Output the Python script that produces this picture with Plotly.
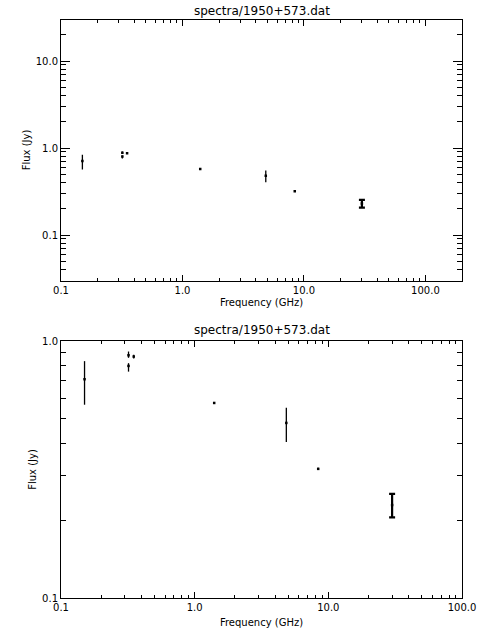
import numpy as np
import plotly.graph_objects as go

# ---- data ----
freq_ghz = [0.15, 0.32, 0.32, 0.35, 1.4, 4.85, 8.4, 30.0]
flux_jy = [0.71, 0.88, 0.80, 0.87, 0.574, 0.48, 0.318, 0.23]
err_plus = [0.125, 0.03, 0.02, 0.015, 0.004, 0.07, 0.003, 0.024]
err_minus = [0.145, 0.02, 0.04, 0.015, 0.004, 0.075, 0.003, 0.024]
capped = [False, False, False, False, False, False, False, True]

title_text = "spectra/1950+573.dat"
x_title = "Frequency (GHz)"
y_title = "Flux (Jy)"
x_tickvals = [0.1, 1.0, 10.0, 100.0]
x_ticktext = ["0.1", "1.0", "10.0", "100.0"]
y_tickvals_top = [0.1, 1.0, 10.0]
y_ticktext_top = ["0.1", "1.0", "10.0"]
y_tickvals_bot = [0.1, 1.0]
y_ticktext_bot = ["0.1", "1.0"]

minor_vals = [m * 10.0 ** e for e in range(-2, 3) for m in range(2, 10)]

FONT = dict(family="DejaVu Sans", size=10, color="black")

fig = go.Figure()

def add_points(xa, ya):
    idx_nc = [i for i, c in enumerate(capped) if not c]
    idx_c = [i for i, c in enumerate(capped) if c]
    for idx, w, th in ((idx_nc, 0, 1.3), (idx_c, 3, 2.2)):
        fig.add_trace(go.Scatter(
            x=[freq_ghz[i] for i in idx], y=[flux_jy[i] for i in idx],
            mode="markers", xaxis=xa, yaxis=ya,
            marker=dict(symbol="square", size=2.5, color="black", line=dict(width=0)),
            error_y=dict(type="data", symmetric=False,
                         array=[err_plus[i] for i in idx],
                         arrayminus=[err_minus[i] for i in idx],
                         color="black", thickness=th, width=w),
            showlegend=False, hoverinfo="skip"))

add_points("x", "y")
add_points("x2", "y2")

def xaxis_common(rng, dom, anchor, ticklen, mticklen, standoff):
    return dict(type="log", range=rng, domain=dom, anchor=anchor, automargin=False,
                showline=True, linecolor="black", linewidth=1, mirror="allticks",
                ticks="inside", ticklen=ticklen, tickwidth=1, tickcolor="black",
                tickmode="array", showgrid=False, zeroline=False,
                tickfont=FONT,
                minor=dict(tickmode="array", tickvals=minor_vals, ticks="inside",
                           ticklen=mticklen, tickwidth=1, tickcolor="black", showgrid=False),
                title=dict(text=x_title, font=FONT, standoff=standoff))

xdom = [61 / 480, 462 / 480]
xa1 = xaxis_common([-1, np.log10(200)], xdom, "y", 6, 3, 4)
xa1.update(tickvals=x_tickvals, ticktext=x_ticktext)
xa2 = xaxis_common([-1, 2], xdom, "y2", 6, 3, 6)
xa2.update(tickvals=x_tickvals, ticktext=x_ticktext)

def yaxis_common(rng, dom, anchor, tv, tt):
    return dict(type="log", range=rng, domain=dom, anchor=anchor, automargin=False,
                showline=True, linecolor="black", linewidth=1, mirror="allticks",
                ticks="inside", ticklen=9, tickwidth=1, tickcolor="black",
                tickmode="array", tickvals=tv, ticktext=tt,
                showgrid=False, zeroline=False, tickfont=FONT,
                minor=dict(tickmode="array", tickvals=minor_vals, ticks="inside",
                           ticklen=5, tickwidth=1, tickcolor="black", showgrid=False),
                title=dict(text=y_title, font=FONT, standoff=3))

ya1 = yaxis_common([np.log10(0.03), np.log10(30)], [1 - 280.5 / 640, 1 - 19.5 / 640], "x",
                   y_tickvals_top, y_ticktext_top)
ya2 = yaxis_common([-1, 0], [1 - 598 / 640, 1 - 341 / 640], "x2",
                   y_tickvals_bot, y_ticktext_bot)

fig.update_layout(
    width=480, height=640,
    margin=dict(l=0, r=0, t=0, b=0, autoexpand=False),
    paper_bgcolor="white", plot_bgcolor="white",
    font=FONT,
    xaxis=xa1, yaxis=ya1, xaxis2=xa2, yaxis2=ya2,
    annotations=[
        dict(text=title_text, x=(61 + 462) / 2 / 480, y=1 - 11 / 640, xref="paper", yref="paper",
             showarrow=False, font=dict(family="DejaVu Sans", size=12, color="black"),
             xanchor="center", yanchor="middle"),
        dict(text=title_text, x=(61 + 462) / 2 / 480, y=1 - 330 / 640, xref="paper", yref="paper",
             showarrow=False, font=dict(family="DejaVu Sans", size=12, color="black"),
             xanchor="center", yanchor="middle"),
    ],
)

fig.write_html("out.html", config={"displayModeBar": False},
               post_script="document.body.style.margin='0';document.body.style.overflow='hidden';")
